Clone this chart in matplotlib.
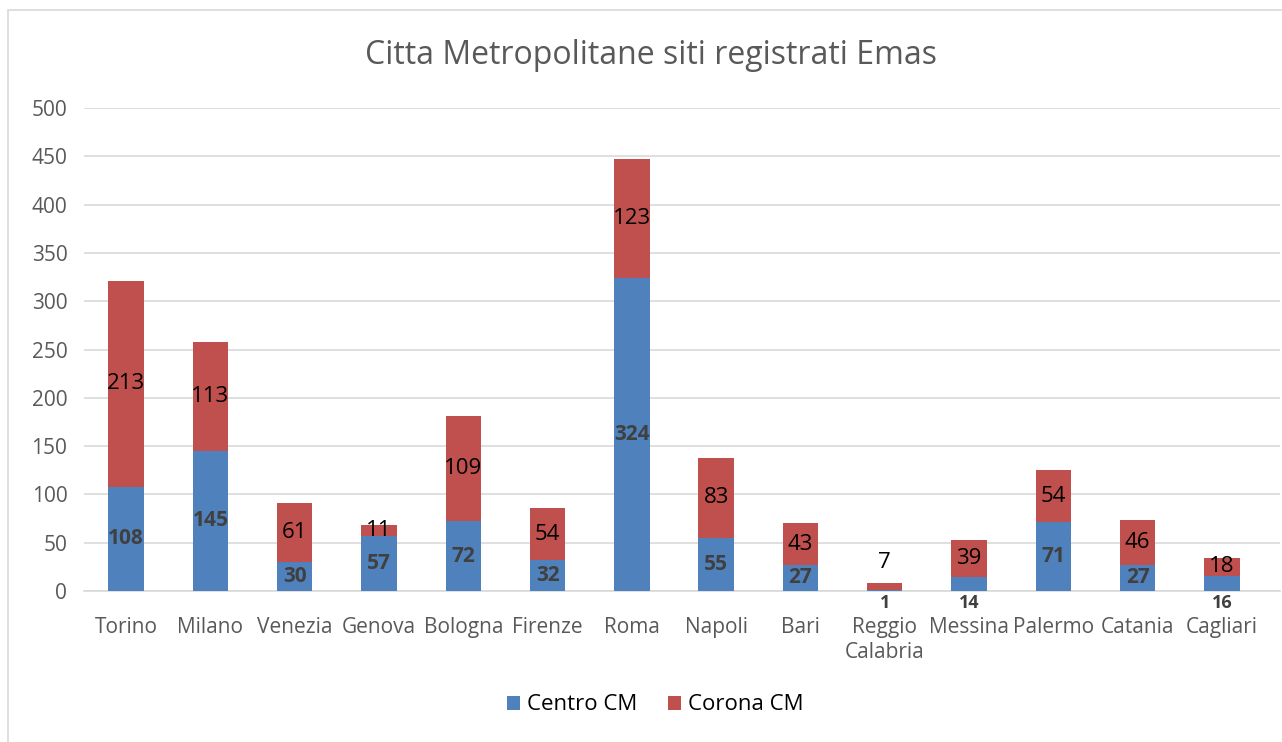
import matplotlib.pyplot as plt
import numpy as np
from matplotlib.patches import Rectangle

plt.rcParams['font.family'] = ['Open Sans', 'DejaVu Sans']

cities = ['Torino', 'Milano', 'Venezia', 'Genova', 'Bologna', 'Firenze', 'Roma',
          'Napoli', 'Bari', 'Reggio\nCalabria', 'Messina', 'Palermo', 'Catania', 'Cagliari']
centro = [108, 145, 30, 57, 72, 32, 324, 55, 27, 1, 14, 71, 27, 16]
corona = [213, 113, 61, 11, 109, 54, 123, 83, 43, 7, 39, 54, 46, 18]

blue = '#4F81BD'
red = '#C0504D'
grid = '#D9D9D9'
txt = '#595959'

W, H = 1282, 742
fig = plt.figure(figsize=(W / 100, H / 100), dpi=100)

# chart frame
fig.patches.append(Rectangle((8 / W, -0.05), 1.1, 1 - 10 / H + 0.05, transform=fig.transFigure,
                             fill=False, edgecolor=grid, linewidth=1.2))

ax = fig.add_axes([84 / W, (H - 591) / H, (1280 - 84) / W, (591 - 108) / H])

x = np.arange(len(cities))
bw = 0.42
ax.bar(x, centro, bw, color=blue, label='Centro CM', zorder=3)
ax.bar(x, corona, bw, bottom=centro, color=red, label='Corona CM', zorder=3)

ax.set_xlim(-0.5, 13.5 + 16 / 84.4)
ax.set_ylim(0, 500)
ax.set_yticks(range(0, 501, 50))
ax.yaxis.grid(True, color=grid, linewidth=1.2, zorder=0)
ax.set_axisbelow(True)
for s in ['top', 'right', 'left']:
    ax.spines[s].set_visible(False)
ax.spines['bottom'].set_color(grid)
ax.spines['bottom'].set_linewidth(1.2)
ax.tick_params(length=0, labelsize=15, labelcolor=txt, pad=12)
ax.set_xticks(x)
ax.set_xticklabels(cities, linespacing=1.25)
ax.tick_params(axis='x', pad=19)

# data labels
below = {'Reggio\nCalabria', 'Messina', 'Cagliari'}
for i, c in enumerate(cities):
    if c in below:
        ax.text(i, -3, str(centro[i]), ha='center', va='top', fontsize=13,
                fontweight='bold', color='#404040')
    else:
        ax.text(i, centro[i] / 2, str(centro[i]), ha='center', va='center',
                fontsize=15, fontweight='bold', color='#404040', zorder=4)
    if corona[i] < 15 and centro[i] < 20:
        y = centro[i] + corona[i] + 22
    else:
        y = centro[i] + corona[i] / 2
    ax.text(i, y, str(corona[i]), ha='center', va='center', fontsize=16,
            color='black', zorder=4)

fig.text(651 / W, 1 - 55 / H, 'Citta Metropolitane siti registrati Emas',
         ha='center', va='center', fontsize=23, color=txt)

fig.legend(loc='center', bbox_to_anchor=(655 / W, 1 - 705 / H), ncol=2, frameon=False,
           fontsize=16, handlelength=0.6, handleheight=0.6, columnspacing=1.4,
           handletextpad=0.3)

plt.savefig('out.png', dpi=100)
